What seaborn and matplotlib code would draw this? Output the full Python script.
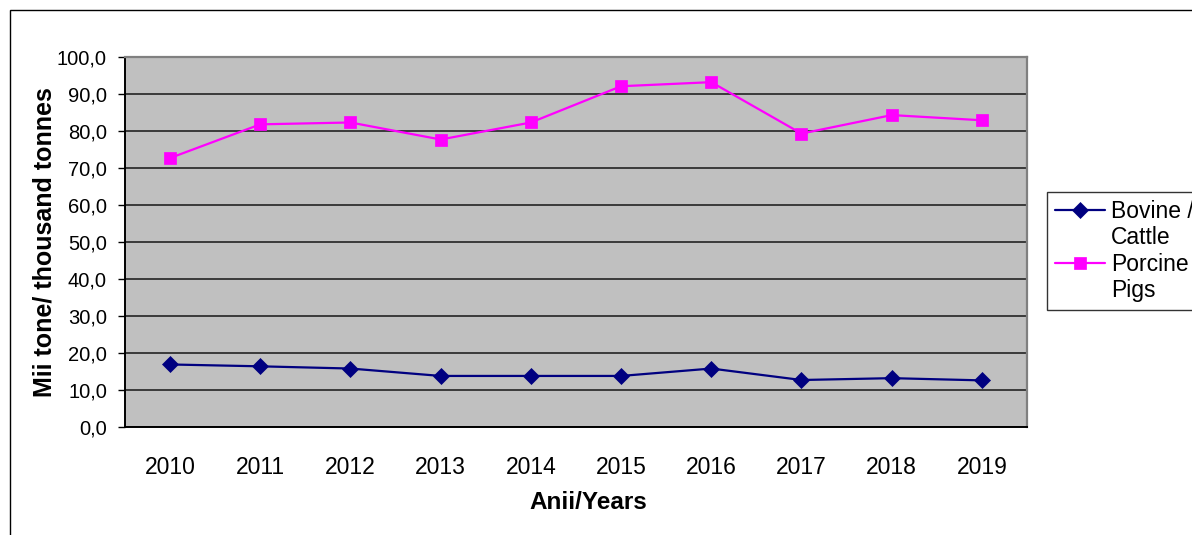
import matplotlib
matplotlib.use("Agg")
import matplotlib.pyplot as plt
from matplotlib.lines import Line2D
from matplotlib.patches import Rectangle
from matplotlib.ticker import FuncFormatter, FixedLocator
import numpy as np
import pandas as pd
import seaborn as sns

# data
years = [2010, 2011, 2012, 2013, 2014, 2015, 2016, 2017, 2018, 2019]
cattle = [16.9, 16.4, 15.8, 13.8, 13.8, 13.8, 15.8, 12.7, 13.2, 12.6]
pigs = [72.7, 81.8, 82.3, 77.7, 82.3, 92.1, 93.2, 79.3, 84.3, 82.9]
series_names = ["Bovine / Cattle", "Porcine Pigs"]
legend_lines = [["Bovine /", "Cattle"], ["Porcine", "Pigs"]]
y_ticks = [0, 10, 20, 30, 40, 50, 60, 70, 80, 90, 100]

sns.set_style("white")
plt.rcParams['font.family'] = ['Liberation Sans', 'DejaVu Sans']
plt.rcParams['text.color'] = 'black'
plt.rcParams['axes.labelcolor'] = 'black'
plt.rcParams['xtick.color'] = 'black'
plt.rcParams['ytick.color'] = 'black'

df_cattle = pd.DataFrame({"year": years, "value": cattle})
df_pigs = pd.DataFrame({"year": years, "value": pigs})

fig = plt.figure(figsize=(11.92, 5.35), dpi=100)
ax = fig.add_axes([125 / 1192, 1 - 427 / 535, (1027 - 125) / 1192, (427 - 57) / 535])
ax.set_facecolor("#C0C0C0")

sns.lineplot(data=df_cattle, x="year", y="value", ax=ax, color="#000080",
             marker="D", markersize=8, markeredgecolor="#000080",
             markeredgewidth=0.5, linewidth=1.6, label=series_names[0], legend=False)
sns.lineplot(data=df_pigs, x="year", y="value", ax=ax, color="#FF00FF",
             marker="s", markersize=8, markeredgecolor="#FF00FF",
             markeredgewidth=0.5, linewidth=1.6, label=series_names[1], legend=False)

ax.set_xlim(years[0] - 0.5, years[-1] + 0.5)
ax.set_ylim(0, 100)
ax.set_yticks(y_ticks)
ax.yaxis.set_major_formatter(FuncFormatter(lambda v, p: f"{v:.1f}".replace(".", ",")))
ax.set_xticks(years)
ax.set_xticklabels([str(y) for y in years])
ax.xaxis.set_minor_locator(FixedLocator(np.arange(years[0] - 0.5, years[-1] + 1.0, 1.0)))

ax.grid(axis="y", color="#3a3a3a", linewidth=1.4)
ax.set_axisbelow(True)

ax.tick_params(axis="x", which="major", length=0, pad=21, labelsize=16.5)
ax.tick_params(axis="x", which="minor", length=6, width=1, direction="out")
ax.tick_params(axis="y", which="major", length=5, width=1, pad=8, labelsize=14.5,
               direction="out", left=True)

for side in ["left", "bottom"]:
    ax.spines[side].set_color("black")
    ax.spines[side].set_linewidth(1.4)
for side in ["top", "right"]:
    ax.spines[side].set_visible(True)
    ax.spines[side].set_color("#808080")
    ax.spines[side].set_linewidth(1.6)

ax.set_xlabel("Anii/Years", fontsize=17.5, fontweight="bold")
ax.xaxis.set_label_coords((588 - 125) / 902, -0.205)
ax.xaxis.label.set_verticalalignment("center")
ax.set_ylabel("Mii tone/ thousand tonnes", fontsize=18, fontweight="bold", labelpad=0)

# legend: each label wraps onto a second line, handle sits beside the first line
h1, h2 = ax.lines[0], ax.lines[1]
blank = Line2D([], [], linestyle="none")
handles = [h1, blank, h2, blank]
labels = [legend_lines[0][0], legend_lines[0][1], legend_lines[1][0], legend_lines[1][1]]
leg = fig.legend(handles, labels, loc="upper left", bbox_to_anchor=(1047 / 1192, 1 - 192 / 535),
                 fontsize=16.5, frameon=True, fancybox=False, edgecolor="black",
                 handlelength=2.2, handletextpad=0.25, borderpad=0.35, labelspacing=0.15,
                 borderaxespad=0)
leg.get_frame().set_linewidth(1.0)

# outer chart border
fig.add_artist(Rectangle((10 / 1192, -0.2), 1.2, 1.2 - 10 / 535, transform=fig.transFigure,
                         fill=False, edgecolor="black", linewidth=1.0))

fig.savefig("out.png", dpi=100)
